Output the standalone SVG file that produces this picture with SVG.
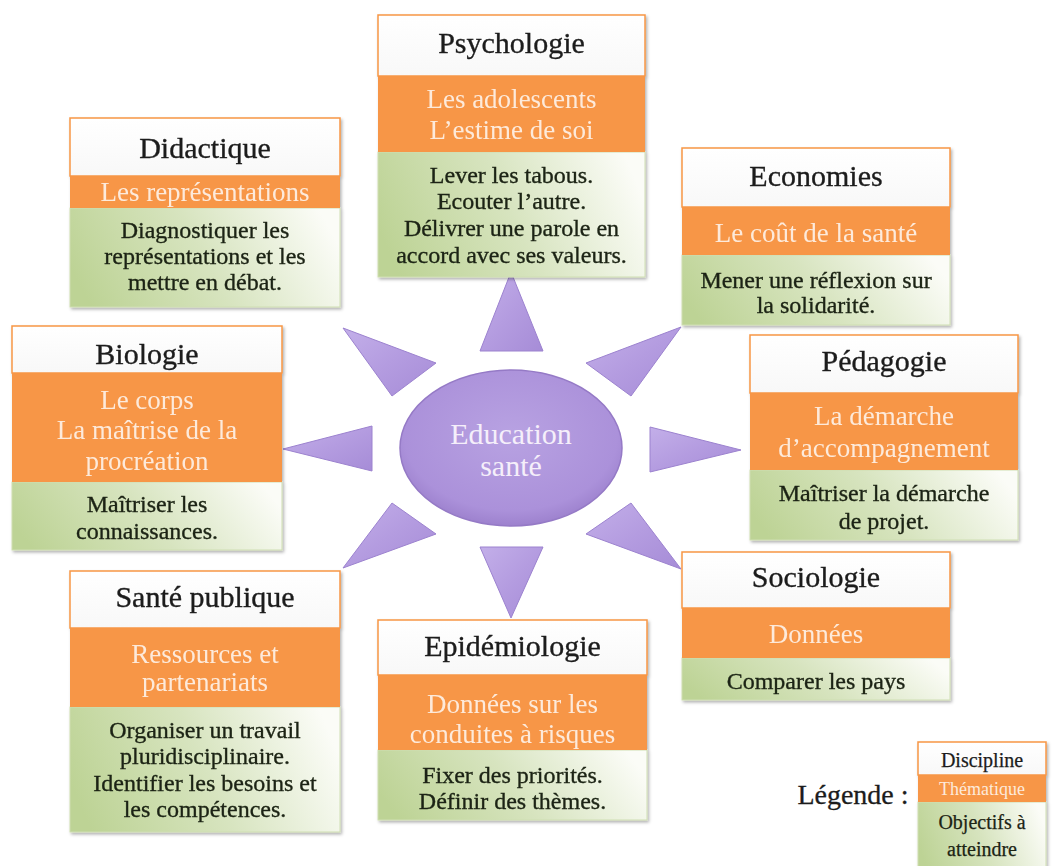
<svg xmlns="http://www.w3.org/2000/svg" width="1052" height="866" viewBox="0 0 1052 866">
<defs>
<linearGradient id="gGreen" x1="0" y1="0.6" x2="1" y2="0.4">
<stop offset="0" stop-color="#bdd395"/>
<stop offset="0.5" stop-color="#d7e4bf"/>
<stop offset="1" stop-color="#fbfcf7"/>
</linearGradient>
<linearGradient id="gWhite" x1="0" y1="0" x2="0" y2="1">
<stop offset="0" stop-color="#ffffff"/>
<stop offset="1" stop-color="#f8f8f8"/>
</linearGradient>
<linearGradient id="gTri" x1="0" y1="0" x2="1" y2="1">
<stop offset="0" stop-color="#c3afe9"/>
<stop offset="0.5" stop-color="#b49ce0"/>
<stop offset="1" stop-color="#a68cd7"/>
</linearGradient>
<radialGradient id="gEll" cx="0.5" cy="0.42" r="0.6">
<stop offset="0" stop-color="#b8a2e2"/>
<stop offset="0.8" stop-color="#ab91da"/>
<stop offset="1" stop-color="#9a7ecb"/>
</radialGradient>
<filter id="sh" x="-5%" y="-5%" width="115%" height="115%">
<feDropShadow dx="1.5" dy="2" stdDeviation="1.5" flood-color="#000" flood-opacity="0.3"/>
</filter>
</defs>
<style>
.w{fill:url(#gWhite);stroke:#f79646;stroke-width:1.5}
.or{fill:#f79646}
.gr{fill:url(#gGreen);stroke:#cfdeb2;stroke-width:1}
.t{font-family:"Liberation Serif","Times New Roman",serif;text-anchor:middle}
.h{font-size:30px;fill:#1c1c1c;stroke:#1c1c1c;stroke-width:0.35}
.o{font-size:27px;fill:#fdeadb}
.g{font-size:24px;fill:#1c2414;stroke:#1c2414;stroke-width:0.35}
.tri{fill:url(#gTri);stroke:#9c82cf;stroke-width:1;stroke-linejoin:round}
</style>
<rect width="1052" height="866" fill="#ffffff"/>

<g id="connectors">
<polygon class="tri" points="511,272 480,351 543,351"/>
<polygon class="tri" points="681,327 586,363 631,396"/>
<polygon class="tri" points="741,450 650,427 650,472"/>
<polygon class="tri" points="681,569 631,503 586,534"/>
<polygon class="tri" points="511,618 480,547 543,547"/>
<polygon class="tri" points="343,568 392,503 436,534"/>
<polygon class="tri" points="283,449 372,426 372,471"/>
<polygon class="tri" points="343,328 436,363 392,396"/>
</g>

<g id="center">
<ellipse cx="511" cy="448" rx="111" ry="78" fill="url(#gEll)" stroke="#957ac6" stroke-width="1.5"/>
<text class="t" x="511" y="444" font-size="30" fill="#f5effa">Education</text>
<text class="t" x="511" y="476" font-size="30" fill="#f5effa">santé</text>
</g>

<g id="psychologie" filter="url(#sh)">
<rect class="gr" x="378" y="152" width="267" height="125"/>
<rect class="or" x="378" y="76" width="267" height="76"/>
<rect class="w" x="378" y="15" width="267" height="61"/>
<text class="t h" x="511.5" y="53">Psychologie</text>
<text class="t o" x="511.5" y="108">Les adolescents</text>
<text class="t o" x="511.5" y="139">L’estime de soi</text>
<text class="t g" x="511.5" y="183">Lever les tabous.</text>
<text class="t g" x="511.5" y="209">Ecouter l’autre.</text>
<text class="t g" x="511.5" y="236">Délivrer une parole en</text>
<text class="t g" x="511.5" y="263">accord avec ses valeurs.</text>
</g>

<g id="didactique" filter="url(#sh)">
<rect class="gr" x="70" y="208" width="270" height="99"/>
<rect class="or" x="70" y="176" width="270" height="32"/>
<rect class="w" x="70" y="118" width="270" height="58"/>
<text class="t h" x="205" y="158">Didactique</text>
<text class="t o" x="205" y="201">Les représentations</text>
<text class="t g" x="205" y="238">Diagnostiquer les</text>
<text class="t g" x="205" y="264">représentations et les</text>
<text class="t g" x="205" y="290">mettre en débat.</text>
</g>

<g id="economies" filter="url(#sh)">
<rect class="gr" x="682" y="255" width="268" height="70"/>
<rect class="or" x="682" y="207" width="268" height="48"/>
<rect class="w" x="682" y="148" width="268" height="59"/>
<text class="t h" x="816" y="186">Economies</text>
<text class="t o" x="816" y="242">Le coût de la santé</text>
<text class="t g" x="816" y="288">Mener une réflexion sur</text>
<text class="t g" x="816" y="313">la solidarité.</text>
</g>

<g id="biologie" filter="url(#sh)">
<rect class="gr" x="12" y="482" width="270" height="68"/>
<rect class="or" x="12" y="373" width="270" height="109"/>
<rect class="w" x="12" y="326" width="270" height="47"/>
<text class="t h" x="147" y="364">Biologie</text>
<text class="t o" x="147" y="409">Le corps</text>
<text class="t o" x="147" y="439">La maîtrise de la</text>
<text class="t o" x="147" y="470">procréation</text>
<text class="t g" x="147" y="512">Maîtriser les</text>
<text class="t g" x="147" y="539">connaissances.</text>
</g>

<g id="pedagogie" filter="url(#sh)">
<rect class="gr" x="750" y="470" width="268" height="70"/>
<rect class="or" x="750" y="393" width="268" height="77"/>
<rect class="w" x="750" y="335" width="268" height="58"/>
<text class="t h" x="884" y="371">Pédagogie</text>
<text class="t o" x="884" y="425">La démarche</text>
<text class="t o" x="884" y="457">d’accompagnement</text>
<text class="t g" x="884" y="501">Maîtriser la démarche</text>
<text class="t g" x="884" y="529">de projet.</text>
</g>

<g id="sante-publique" filter="url(#sh)">
<rect class="gr" x="70" y="707" width="270" height="125"/>
<rect class="or" x="70" y="628" width="270" height="79"/>
<rect class="w" x="70" y="571" width="270" height="57"/>
<text class="t h" x="205" y="607">Santé publique</text>
<text class="t o" x="205" y="663">Ressources et</text>
<text class="t o" x="205" y="691">partenariats</text>
<text class="t g" x="205" y="738">Organiser un travail</text>
<text class="t g" x="205" y="764">pluridisciplinaire.</text>
<text class="t g" x="205" y="791">Identifier les besoins et</text>
<text class="t g" x="205" y="817">les compétences.</text>
</g>

<g id="epidemiologie" filter="url(#sh)">
<rect class="gr" x="378" y="750" width="269" height="70"/>
<rect class="or" x="378" y="675" width="269" height="75"/>
<rect class="w" x="378" y="620" width="269" height="55"/>
<text class="t h" x="512.5" y="656">Epidémiologie</text>
<text class="t o" x="512.5" y="713">Données sur les</text>
<text class="t o" x="512.5" y="743">conduites à risques</text>
<text class="t g" x="512.5" y="783">Fixer des priorités.</text>
<text class="t g" x="512.5" y="809">Définir des thèmes.</text>
</g>

<g id="sociologie" filter="url(#sh)">
<rect class="gr" x="682" y="658" width="268" height="42"/>
<rect class="or" x="682" y="608" width="268" height="50"/>
<rect class="w" x="682" y="552" width="268" height="56"/>
<text class="t h" x="816" y="587">Sociologie</text>
<text class="t o" x="816" y="643">Données</text>
<text class="t g" x="816" y="689">Comparer les pays</text>
</g>

<g id="legende">
<text class="t" x="853" y="804" font-size="28" fill="#1c1c1c" stroke="#1c1c1c" stroke-width="0.3">Légende :</text>
<g filter="url(#sh)">
<rect class="gr" x="918" y="802" width="128" height="70"/>
<rect class="or" x="918" y="775" width="128" height="27"/>
<rect class="w" x="918" y="742" width="128" height="33"/>
</g>
<text class="t" x="982" y="767" font-size="20" fill="#1c1c1c" stroke="#1c1c1c" stroke-width="0.25">Discipline</text>
<text class="t" x="982" y="795" font-size="18" fill="#fdeadb">Thématique</text>
<text class="t" x="982" y="829" font-size="20" fill="#1c2414" stroke="#1c2414" stroke-width="0.25">Objectifs à</text>
<text class="t" x="982" y="856" font-size="20" fill="#1c2414" stroke="#1c2414" stroke-width="0.25">atteindre</text>
</g>
</svg>
